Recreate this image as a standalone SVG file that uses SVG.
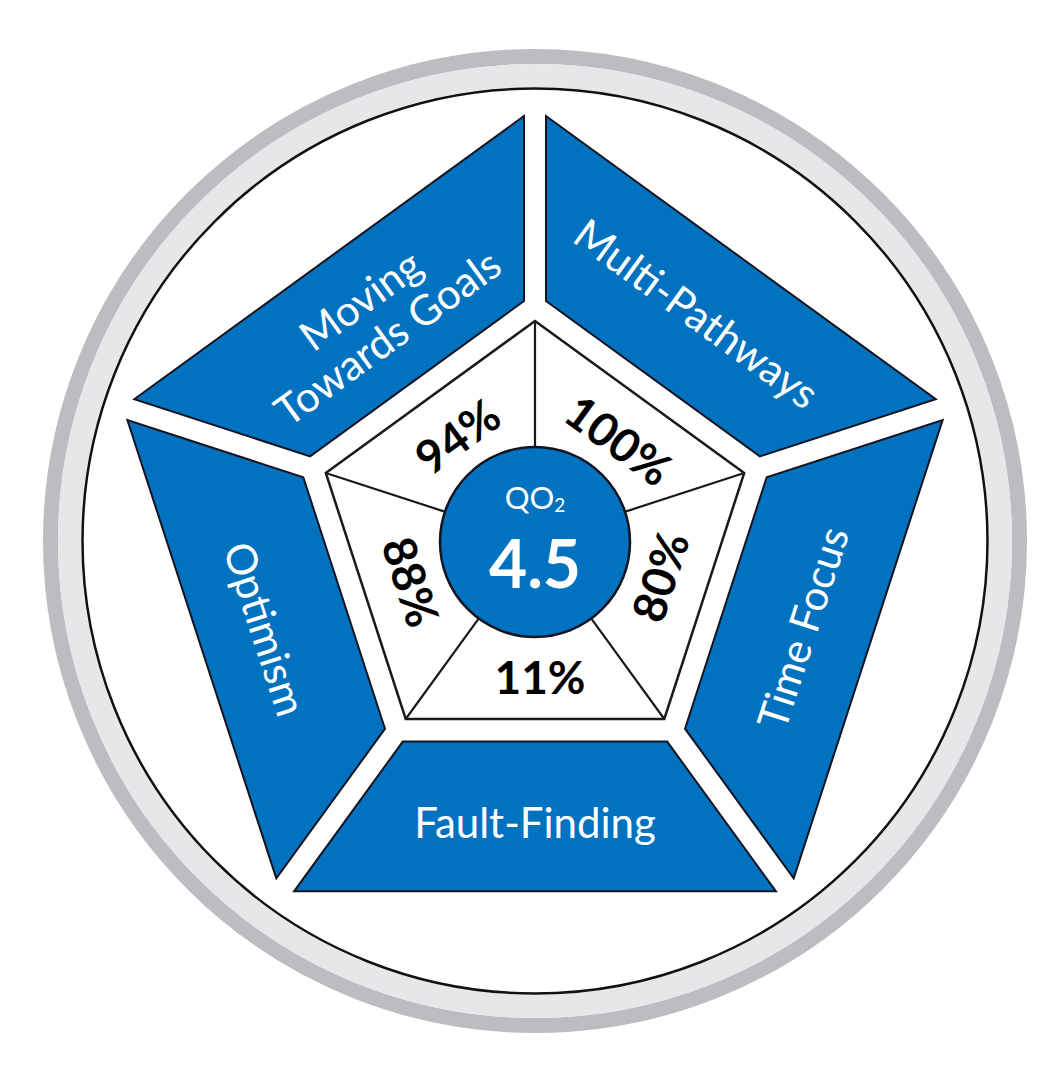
<svg xmlns="http://www.w3.org/2000/svg" width="1061" height="1083" viewBox="0 0 1061 1083">
  <style>
    .seg { fill: #0072C0; stroke: #141420; stroke-width: 2; stroke-linejoin: miter; }
    .lbl { font-family: Lato, "Open Sans", "Liberation Sans", sans-serif; font-size: 42px; fill: #ffffff; text-anchor: middle; }
    .pct { font-family: Lato, "Liberation Sans", sans-serif; font-size: 46px; font-weight: bold; fill: #000000; text-anchor: middle; }
    .spoke { stroke: #1a1a1a; stroke-width: 2.2; fill: none; }
  </style>
  <rect width="1061" height="1083" fill="#ffffff"/>
  <g id="ring">
    <circle cx="535" cy="541" r="484.5" fill="none" stroke="#BCBDC0" stroke-width="15"/>
    <circle cx="535" cy="541" r="465.5" fill="none" stroke="#E6E7E8" stroke-width="23"/>
    <circle cx="535" cy="541" r="452.5" fill="#ffffff" stroke="#111111" stroke-width="2.5"/>
  </g>
  <g id="node-multi-pathways">
    <polygon class="seg" points="546,116 935.8,399.2 759.9,456.4 546,301"/>
    <text class="lbl" transform="translate(694,317) rotate(36)" y="11">Multi-Pathways</text>
  </g>
  <g id="node-time-focus">
    <polygon class="seg" points="942.6,420.1 793.7,878.4 685,728.7 766.7,477.3"/>
    <text class="lbl" transform="translate(803,628) rotate(-72)" y="15">Time Focus</text>
  </g>
  <g id="node-fault-finding">
    <polygon class="seg" points="775.9,891.3 294.1,891.3 402.8,741.6 667.2,741.6"/>
    <text class="lbl" x="535" y="838">Fault-Finding</text>
  </g>
  <g id="node-optimism">
    <polygon class="seg" points="276.3,878.4 127.4,420.1 303.3,477.3 385,728.7"/>
    <text class="lbl" transform="translate(262,630) rotate(72)" y="12">Optimism</text>
  </g>
  <g id="node-moving-towards-goals">
    <polygon class="seg" points="134.2,399.2 524,116 524,301 310.1,456.4"/>
    <text class="lbl" transform="translate(375,320) rotate(-36)"><tspan x="0" y="-9.5">Moving</tspan><tspan x="0" y="36.5">Towards Goals</tspan></text>
  </g>
  <g id="node-core">
    <polygon points="535,321 744.2,473 664.3,719 405.7,719 325.8,473" fill="#ffffff" stroke="#1a1a1a" stroke-width="2.5" stroke-linejoin="miter"/>
  </g>
  <g id="connectors">
    <line class="spoke" x1="535" y1="446" x2="535" y2="321"/>
    <line class="spoke" x1="625.4" y1="511.6" x2="744.2" y2="473"/>
    <line class="spoke" x1="590.8" y1="617.9" x2="664.3" y2="719"/>
    <line class="spoke" x1="479.2" y1="617.9" x2="405.7" y2="719"/>
    <line class="spoke" x1="444.6" y1="511.6" x2="325.8" y2="473"/>
  </g>
  <g id="node-percentages">
    <text class="pct" transform="translate(458,437) rotate(-36)" y="16">94%</text>
    <text class="pct" transform="translate(618,441) rotate(36)" y="16">100%</text>
    <text class="pct" transform="translate(661,577) rotate(-72)" y="16">80%</text>
    <text class="pct" x="540" y="694">11%</text>
    <text class="pct" transform="translate(410,582) rotate(72)" y="16">88%</text>
  </g>
  <g id="node-center">
    <circle cx="535" cy="542" r="95" fill="#0072C0" stroke="#141420" stroke-width="2.5"/>
    <text x="535" y="509" font-family="Lato, 'Open Sans', sans-serif" font-size="31" fill="#ffffff" text-anchor="middle">QO<tspan font-size="19" dy="3">2</tspan></text>
    <text x="535" y="588" font-family="Lato, 'Liberation Sans', sans-serif" font-size="66" font-weight="bold" fill="#ffffff" text-anchor="middle">4.5</text>
  </g>
</svg>
